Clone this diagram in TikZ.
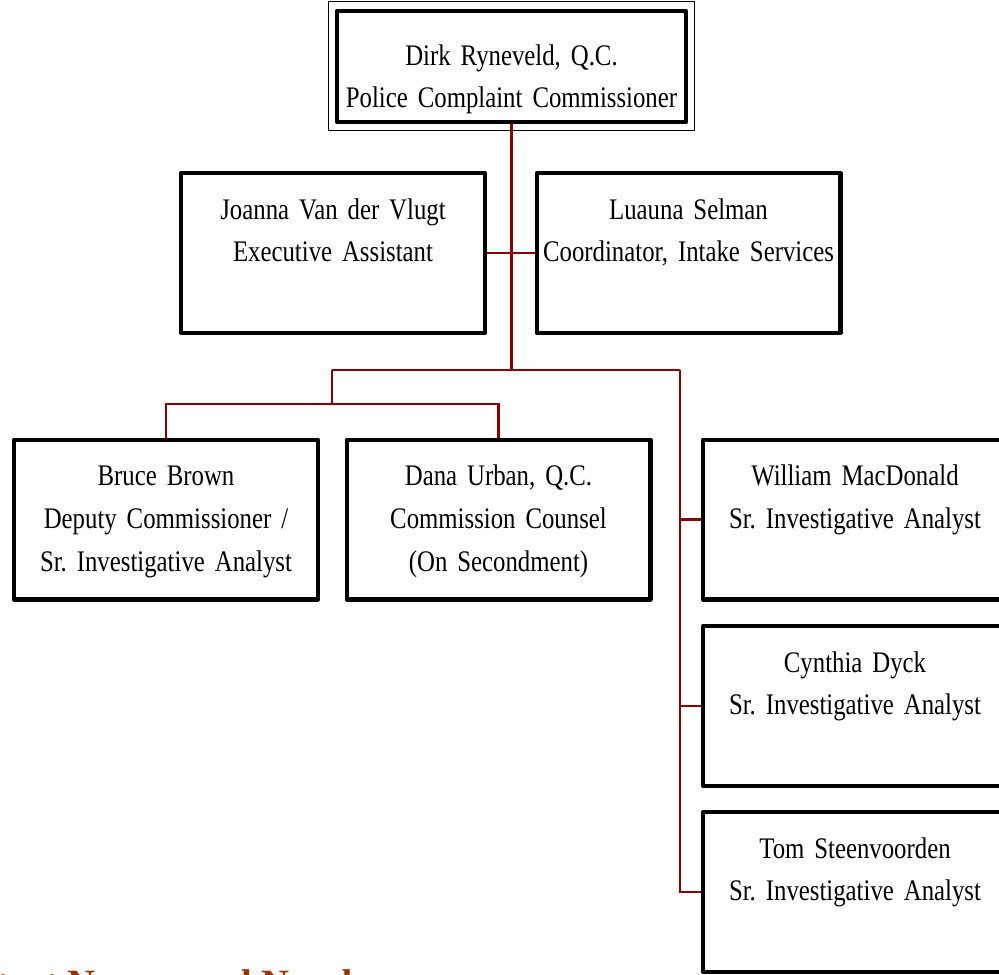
\documentclass[tikz,border=0pt]{standalone}
\usepackage{fontspec}
\setmainfont[FakeStretch=0.83, WordSpace=0.6]{Liberation Serif}
\newfontfamily\headfont{Liberation Serif}
\frenchspacing
\usetikzlibrary{backgrounds}
\definecolor{linkred}{HTML}{8B0000}
\definecolor{headrust}{HTML}{993300}
\tikzset{
  staffbox/.style={draw, line width=2.3pt, line join=round, fill=white, align=center,
    text width=5.9cm, minimum width=6.08cm, inner xsep=0pt, inner ysep=0pt,
    text height=0.92cm, text depth=2.28cm, font=\fontsize{17}{24.4}\selectfont},
  chiefbox/.style={staffbox, line width=2.6pt, minimum width=6.98cm, text width=6.8cm,
    text height=1.08cm, text depth=1.14cm},
  frame/.style={draw, line width=0.8pt},
  link/.style={draw=linkred, line width=1.2pt}
}
\newcommand{\employee}[3]{%
 \node[staffbox] (#1) at (#2) {#3};%
}

\begin{document}
\begin{tikzpicture}[x=0.02cm, y=-0.02cm]
   \useasboundingbox (0,0) rectangle (999,974);
   \clip (0,0) rectangle (999,974);
   % commissioner
   \node[chiefbox] (chief) at (511.5,66.5) {Dirk Ryneveld, Q.C.\\Police Complaint Commissioner};
   \draw[frame] ([shift={(-6,-7)}]chief.north west) rectangle ([shift={(6,6)}]chief.south east);
   % staff
   \employee{joanna}{333,253}{Joanna Van der Vlugt\\Executive Assistant}
   \employee{luauna}{688.5,253}{Luauna Selman\\Coordinator, Intake Services}
   \employee{bruce}{166,519.5}{Bruce Brown\\Deputy Commissioner /\\Sr. Investigative Analyst}
   \employee{dana}{498.5,519.5}{Dana Urban, Q.C.\\Commission Counsel\\(On Secondment)}
   \employee{william}{855,519.5}{William MacDonald\\Sr. Investigative Analyst}
   \employee{cynthia}{855,706}{Cynthia Dyck\\Sr. Investigative Analyst}
   \employee{tom}{855,892}{Tom Steenvoorden\\Sr. Investigative Analyst}
   \node[anchor=base west, inner sep=0pt, text=headrust,
     font=\headfont\bfseries\fontsize{22}{26}\selectfont] (heading) at (-73,996) {Contact Names and Numbers};
   % connectors
   \begin{scope}[on background layer]
     \coordinate (split) at (332,370);
     \coordinate (spine) at (680,370);
     \coordinate (pair) at (332,404);
     \coordinate (hub) at (chief.south |- split);
     \draw[link] (chief.south) -- (hub);
     \draw[link] (joanna.east) -- (luauna.west);
     \draw[link] (split) -- (spine);
     \draw[link] (split) -- (pair);
     \draw[link] (bruce.north) |- (pair) -| (dana.north);
     \draw[link] (spine) |- (tom.west);
     \draw[link] (spine |- william.west) -- (william.west);
     \draw[link] (spine |- cynthia.west) -- (cynthia.west);
   \end{scope}
\end{tikzpicture}
\end{document}
